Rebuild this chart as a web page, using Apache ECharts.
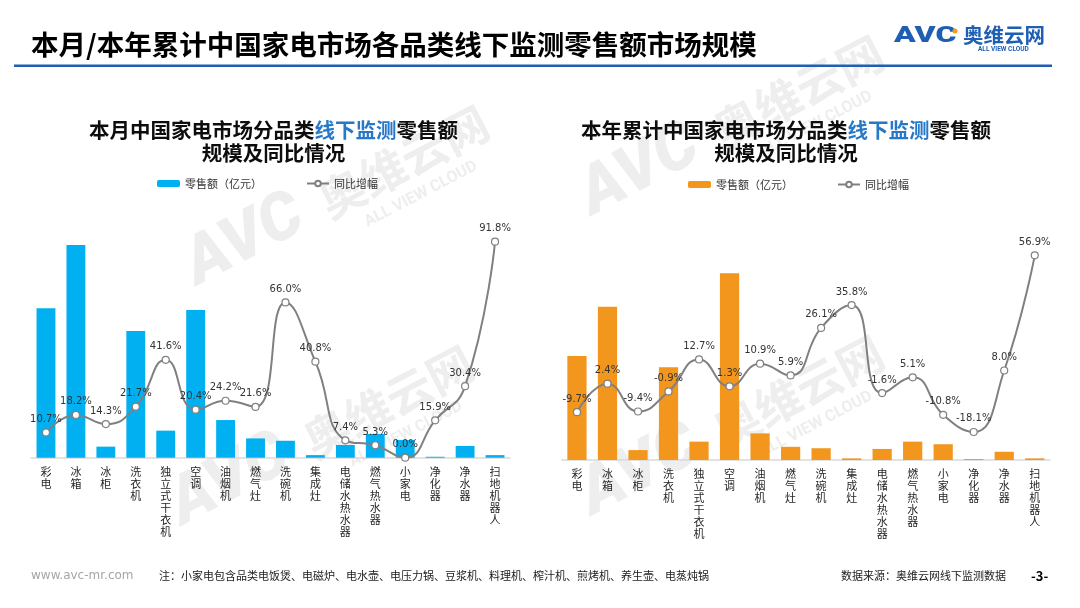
<!DOCTYPE html>
<html>
<head>
<meta charset="utf-8">
<script src="https://cdn.jsdelivr.net/npm/echarts@6/dist/echarts.min.js"></script>
<style>
html,body{margin:0;padding:0;background:#fff;}
#main{width:1080px;height:608px;}
</style>
</head>
<body>
<div id="main"></div>
<script>
// ---- data ----
const categories = ['彩电','冰箱','冰柜','洗衣机','独立式干衣机','空调','油烟机','燃气灶','洗碗机','集成灶','电储水热水器','燃气热水器','小家电','净化器','净水器','扫地机器人'];
const monthSales = [63.5, 90.4, 4.7, 53.8, 11.5, 62.8, 16.0, 8.2, 7.2, 1.1, 5.4, 10.1, 7.5, 0.4, 5.0, 1.1];
const monthYoY = [10.7, 18.2, 14.3, 21.7, 41.6, 20.4, 24.2, 21.6, 66.0, 40.8, 7.4, 5.3, 0.0, 15.9, 30.4, 91.8];
const ytdSales = [44.2, 65.1, 4.2, 39.4, 7.8, 79.3, 11.3, 5.6, 5.0, 0.7, 4.7, 7.8, 6.7, 0.4, 3.5, 0.7];
const ytdYoY = [-9.7, 2.4, -9.4, -0.9, 12.7, 1.3, 10.9, 5.9, 26.1, 35.8, -1.6, 5.1, -10.8, -18.1, 8.0, 56.9];
const salesName = '零售额（亿元）';
const yoyName = '同比增幅';

const FONT = '"Noto Sans CJK SC","Noto Sans",sans-serif';
const chart = echarts.init(document.getElementById('main'));

function watermark(x, y) {
  const c = '#eeeeee';
  return {
    type: 'group', x: x, y: y, rotation: 0.48, z: -10, silent: true,
    children: [
      {type:'text', x:0, y:0, style:{text:'AVC', fontSize:66, fontWeight:900, fontStyle:'italic', fontFamily:'Roboto', fill:c, verticalAlign:'bottom'}},
      {type:'text', x:148, y:-8, style:{text:'奥维云网', fontSize:46, fontWeight:'bold', fontFamily:FONT, fill:c, verticalAlign:'bottom'}},
      {type:'text', x:178, y:-2, style:{text:'ALL VIEW CLOUD', fontSize:16, fontWeight:'bold', fontFamily:'Roboto', fill:c, verticalAlign:'top'}}
    ]
  };
}

function subtitle(cx, pre) {
  return [
    {type:'text', x:cx, y:130, style:{text:'{a|'+pre+'}{b|线下监测}{a|零售额}', align:'center', verticalAlign:'middle',
      rich:{a:{fontSize:20.5, fontWeight:'bold', fontFamily:FONT, fill:'#0d0d0d'}, b:{fontSize:20.5, fontWeight:'bold', fontFamily:FONT, fill:'#2878c8'}}}},
    {type:'text', x:cx, y:153, style:{text:'规模及同比情况', align:'center', verticalAlign:'middle', fontSize:20.5, fontWeight:'bold', fontFamily:FONT, fill:'#0d0d0d'}}
  ];
}

const axisLabelFmt = v => v.split('').join('\n');

function xAxis(gi) {
  return {
    type:'category', gridIndex:gi, data:categories,
    axisLine:{show:true, lineStyle:{color:'#d9d9d9', width:1.5}},
    axisTick:{show:false},
    axisLabel:{formatter:axisLabelFmt, fontSize:11, lineHeight:12, color:'#262626', fontFamily:FONT, margin:8, interval:0}
  };
}

function lineSeries(name, data, xi, yi) {
  return {
    name:name, type:'line', xAxisIndex:xi, yAxisIndex:yi, data:data, smooth:true,
    symbol:'circle', symbolSize:7, z:5,
    lineStyle:{color:'#808080', width:2},
    itemStyle:{color:'#ffffff', borderColor:'#808080', borderWidth:1.2},
    label:{show:true, position:'top', distance:4, fontSize:10, color:'#333', fontFamily:'"DejaVu Sans",sans-serif',
      formatter:p => p.value.toFixed(1) + '%'}
  };
}

const option = {
  backgroundColor:'#fff',
  animation:false,
  textStyle:{fontFamily:FONT},
  grid:[
    {left:31, width:479, top:222.4, height:235.3},
    {left:561.7, width:488.3, top:224.5, height:235.5}
  ],
  xAxis:[xAxis(0), xAxis(1)],
  yAxis:[
    {type:'value', gridIndex:0, min:0, max:100, show:false},
    {type:'value', gridIndex:0, min:0, max:100, show:false},
    {type:'value', gridIndex:1, min:0, max:100, show:false},
    {type:'value', gridIndex:1, min:-30, max:70, show:false}
  ],
  legend:[
    {left:152, top:173, itemWidth:23, itemHeight:7, data:[salesName], textStyle:{fontSize:11, color:'#333'}, selectedMode:false},
    {left:301, top:173, itemWidth:22, itemHeight:7, data:[yoyName], textStyle:{fontSize:11, color:'#333'}, selectedMode:false},
    {left:683, top:174, itemWidth:23, itemHeight:7, data:[salesName+' '], textStyle:{fontSize:11, color:'#333'}, selectedMode:false},
    {left:832, top:174, itemWidth:22, itemHeight:7, data:[yoyName+' '], textStyle:{fontSize:11, color:'#333'}, selectedMode:false}
  ],
  series:[
    {name:salesName, type:'bar', xAxisIndex:0, yAxisIndex:0, data:monthSales, barWidth:'63%', itemStyle:{color:'#00b0f0'}},
    lineSeries(yoyName, monthYoY, 0, 1),
    {name:salesName+' ', type:'bar', xAxisIndex:1, yAxisIndex:2, data:ytdSales, barWidth:'63%', itemStyle:{color:'#f2961e'}},
    lineSeries(yoyName+' ', ytdYoY, 1, 3)
  ],
  graphic:[
    watermark(205, 300), watermark(600, 230), watermark(190, 540), watermark(600, 530),
    {type:'text', x:31, y:45, style:{text:'本月/本年累计中国家电市场各品类线下监测零售额市场规模', fontSize:27.5, fontWeight:'bold', fontFamily:FONT, fill:'#000', verticalAlign:'middle'}},
    {type:'rect', shape:{x:14, y:64.5, width:1038, height:2.5}, style:{fill:'#1f5fb3'}},
    {type:'text', x:894, y:36, scaleX:1.45, style:{text:'AVC', fontSize:22, fontWeight:900, fontFamily:'Roboto', fill:'#1f5fb3', verticalAlign:'middle'}},
    {type:'circle', shape:{cx:955, cy:31, r:2.5}, style:{fill:'#f39a1e'}},
    {type:'text', x:963, y:35, style:{text:'奥维云网', fontSize:20.5, fontWeight:'bold', fontFamily:FONT, fill:'#1f5fb3', verticalAlign:'middle'}},
    {type:'text', x:978, y:49, style:{text:'ALL VIEW CLOUD', fontSize:6.5, fontWeight:'bold', fontFamily:'Roboto', fill:'#1f5fb3', verticalAlign:'middle'}},
    ...subtitle(273.5, '本月中国家电市场分品类'),
    ...subtitle(786, '本年累计中国家电市场分品类'),
    {type:'text', x:31, y:576, style:{text:'www.avc-mr.com', fontSize:12, fontFamily:'"DejaVu Sans",sans-serif', fill:'#a6a6a6', verticalAlign:'middle'}},
    {type:'text', x:159, y:576, style:{text:'注：小家电包含品类电饭煲、电磁炉、电水壶、电压力锅、豆浆机、料理机、榨汁机、煎烤机、养生壶、电蒸炖锅', fontSize:11, fontFamily:FONT, fill:'#1a1a1a', verticalAlign:'middle'}},
    {type:'text', x:841, y:576, style:{text:'数据来源：奥维云网线下监测数据', fontSize:11, fontFamily:FONT, fill:'#1a1a1a', verticalAlign:'middle'}},
    {type:'text', x:1031, y:576, style:{text:'-3-', fontSize:13, fontWeight:'bold', fontFamily:FONT, fill:'#000', verticalAlign:'middle'}}
  ]
};
chart.setOption(option);
</script>
</body>
</html>
